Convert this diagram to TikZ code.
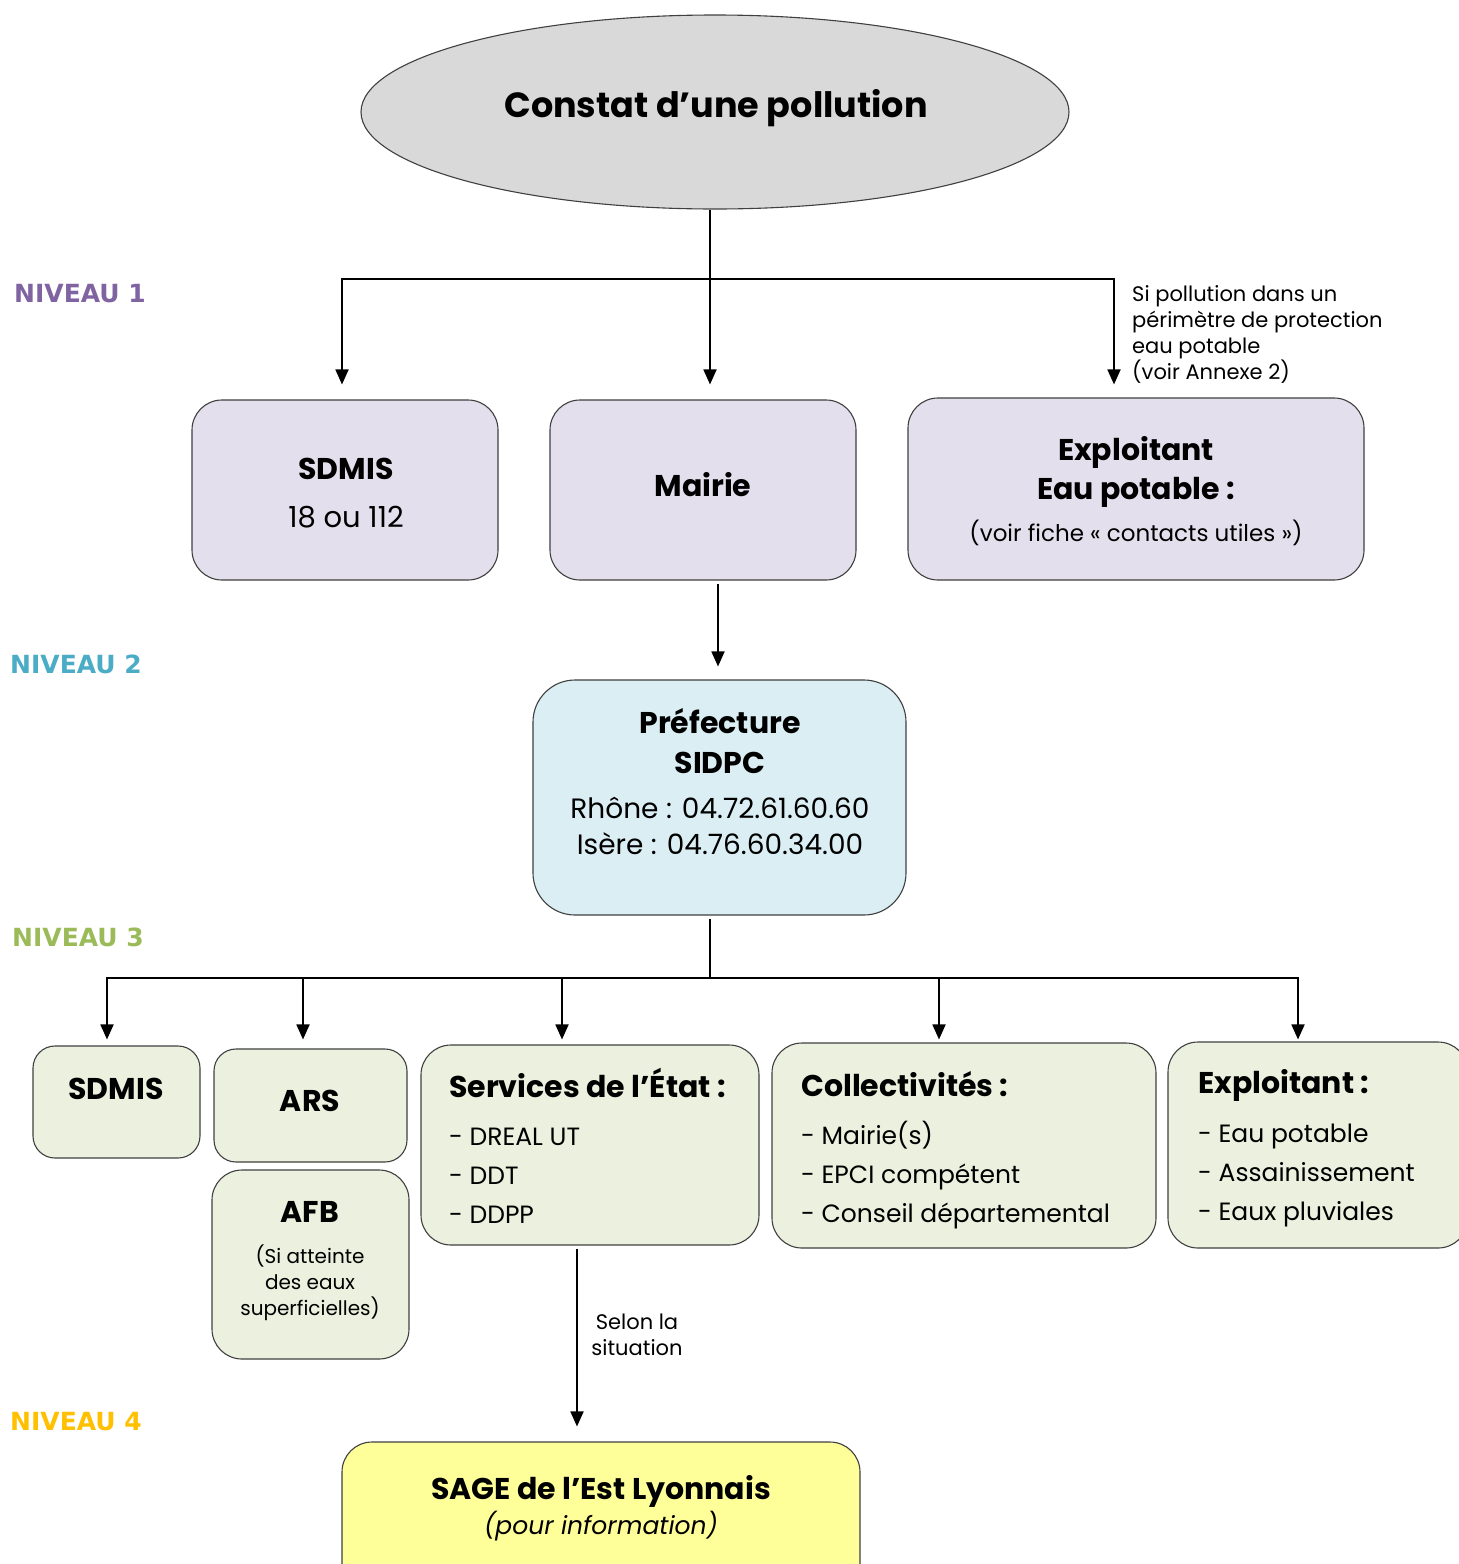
\documentclass[tikz,border=0pt]{standalone}
\usepackage{fontspec}
\setmainfont{Poppins}
\newfontfamily\verd{DejaVu Sans}
\usetikzlibrary{shapes.geometric,arrows.meta}
\definecolor{lav}{HTML}{E4DFEC}
\definecolor{pblue}{HTML}{DAEEF3}
\definecolor{pgreen}{HTML}{EBF1DE}
\definecolor{pyel}{HTML}{FFFF99}
\definecolor{ellc}{HTML}{D9D9D9}
\definecolor{nA}{HTML}{8064A2}
\definecolor{nB}{HTML}{4BACC6}
\definecolor{nC}{HTML}{9BBB59}
\definecolor{nD}{HTML}{FFC000}
\begin{document}
\begin{tikzpicture}[x=1pt,y=-1pt,
  box/.style={draw=black!75, line width=1.1pt, rounded corners=30pt, inner sep=0pt},
  txt/.style={inner sep=0pt, align=center},
  ltxt/.style={inner sep=0pt, align=left, anchor=west},
  conn/.style={line width=1.8pt, draw=black},
  arr/.style={conn, -{Triangle[width=13pt,length=15pt]}},
  niv/.style={inner sep=0pt, anchor=west, font=\verd\bfseries\fontsize{25}{30}\selectfont},
  ttl/.style={font=\bfseries\fontsize{35}{42}\selectfont},
  hd/.style={font=\bfseries\fontsize{30}{39.5}\selectfont},
  bd/.style={font=\fontsize{28}{36}\selectfont},
  lst/.style={font=\fontsize{25}{39}\selectfont},
  sm/.style={font=\fontsize{21}{26}\selectfont}]
\useasboundingbox (0,0) rectangle (1459,1564);
\fill[white] (0,0) rectangle (1459,1564);

% level labels
\node[niv, text=nA] (nv1) at (14,294) {NIVEAU 1};
\node[niv, text=nB] (nv2) at (10,664) {NIVEAU 2};
\node[niv, text=nC] (nv3) at (12,937) {NIVEAU 3};
\node[niv, text=nD] (nv4) at (10,1422) {NIVEAU 4};

% top ellipse
\node[ellipse, draw=black!75, line width=1.1pt, fill=ellc, minimum width=708pt, minimum height=194pt, inner sep=0pt] (ell) at (715,112) {};
\node[txt, ttl] (ellt) at (716,108) {Constat d’une pollution};

% level 1 boxes
\node[box, fill=lav, minimum width=306pt, minimum height=180pt] (sdmisA) at (345,490) {};
\node[txt, hd] (sdmisAt) at (346,469) {SDMIS};
\node[txt, font=\fontsize{29}{34}\selectfont] (sdmisAn) at (346,517) {18 ou 112};

\node[box, fill=lav, minimum width=306pt, minimum height=180pt] (mairie) at (703,490) {};
\node[txt, hd] (mairiet) at (703,485) {Mairie};

\node[box, fill=lav, minimum width=456pt, minimum height=182pt] (explA) at (1136,489) {};
\node[txt, hd] (explAt) at (1136,472) {Exploitant\\Eau potable :};
\node[txt, font=\fontsize{23}{28}\selectfont] (explAn) at (1136,533) {(voir fiche « contacts utiles »)};

\node[ltxt, sm] (annot) at (1132,334) {Si pollution dans un\\périmètre de protection\\eau potable\\(voir Annexe 2)};

% level 2
\node[box, fill=pblue, rounded corners=42pt, minimum width=373pt, minimum height=235pt] (pref) at (719.5,797.5) {};
\node[txt, hd] (preft) at (720,741) {Préfecture\\SIDPC};
\node[txt, bd] (prefn) at (720,826) {Rhône : 04.72.61.60.60\\Isère : 04.76.60.34.00};

% level 3
\node[box, fill=pgreen, rounded corners=22pt, minimum width=167pt, minimum height=112pt] (sdmisB) at (116.5,1102) {};
\node[txt, hd] (sdmisBt) at (116,1089) {SDMIS};

\node[box, fill=pgreen, rounded corners=22pt, minimum width=193pt, minimum height=113pt] (ars) at (310.5,1105.5) {};
\node[txt, hd] (arst) at (310,1101) {ARS};

\node[box, fill=pgreen, minimum width=197pt, minimum height=189pt] (afb) at (310.5,1264.5) {};
\node[txt, hd] (afbt) at (310,1212) {AFB};
\node[txt, font=\fontsize{20}{26}\selectfont] (afbn) at (310,1283) {(Si atteinte\\des eaux\\superficielles)};

\node[box, fill=pgreen, minimum width=338pt, minimum height=200pt] (serv) at (590,1145) {};
\node[ltxt, hd] (servt) at (449,1083) {Services de l’État :};
\node[ltxt, lst] (servn) at (449,1176) {- DREAL UT\\- DDT\\- DDPP};

\node[box, fill=pgreen, minimum width=384pt, minimum height=205pt] (coll) at (964,1145.5) {};
\node[ltxt, hd] (collt) at (801,1084) {Collectivités :};
\node[ltxt, lst] (colln) at (801,1175) {- Mairie(s)\\- EPCI compétent\\- Conseil départemental};

\node[box, fill=pgreen, minimum width=300pt, minimum height=206pt] (explB) at (1318,1145) {};
\node[ltxt, hd] (explBt) at (1198,1085) {Exploitant :};
\node[ltxt, lst] (explBn) at (1198,1175) {- Eau potable\\- Assainissement\\- Eaux pluviales};

% level 4
\node[box, fill=pyel, minimum width=518pt, minimum height=158pt] (sage) at (601,1521) {};
\node[txt, hd] (saget) at (601,1491) {SAGE de l’Est Lyonnais};
\node[txt, font=\itshape\fontsize{25}{30}\selectfont] (sagen) at (601,1526) {(pour information)};

\node[txt, font=\fontsize{21}{26}\selectfont] (selon) at (637,1335) {Selon la\\situation};

% connectors
\coordinate (j1) at (710,279);
\coordinate (j3) at (710,978);
\draw[arr, shorten >=15pt] (ell.south -| j1) -- (mairie.north -| j1);
\draw[arr, shorten >=15pt] (j1) -| ([xshift=-3pt]sdmisA.north);
\draw[arr, shorten >=13pt] (j1) -| ([xshift=-22pt]explA.north);
\draw[arr, shorten <=3pt, shorten >=13pt] ([xshift=15pt]mairie.south) -- ([xshift=15pt]mairie.south |- pref.north);
\draw[conn, shorten <=3pt] (pref.south -| j3) -- (j3);
\draw[arr, shorten >=6pt] (j3) -| ([xshift=-9.5pt]sdmisB.north);
\draw[arr, shorten >=9pt] (j3) -| ([xshift=-7.5pt]ars.north);
\draw[arr, shorten >=5pt] (j3) -| ([xshift=-28pt]serv.north);
\draw[arr, shorten >=3pt] (j3) -| ([xshift=-25pt]coll.north);
\draw[arr, shorten >=2pt] (j3) -| ([xshift=-20pt]explB.north);
\draw[arr, shorten <=3pt, shorten >=15pt] ([xshift=-13pt]serv.south) -- ([xshift=-13pt]serv.south |- sage.north);
\end{tikzpicture}
\end{document}
